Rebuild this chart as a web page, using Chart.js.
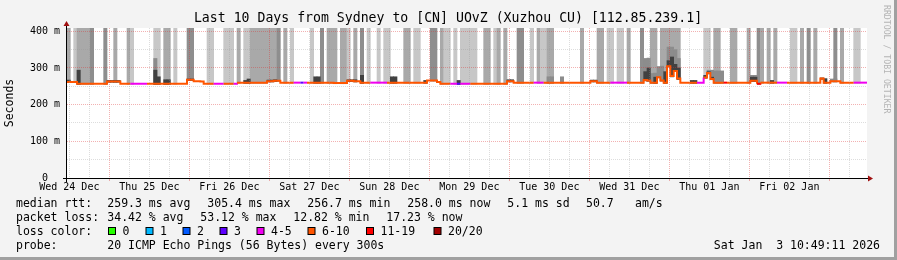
<!DOCTYPE html>
<html lang="en">
<head>
  <meta charset="UTF-8" />
  <title>SmokePing - Sydney to Xuzhou CU</title>
  <script src="https://cdn.jsdelivr.net/npm/chart.js"></script>
  <style>
    html, body { margin: 0; padding: 0; background: #f3f3f3; }
    #wrap { position: relative; width: 897px; height: 260px; }
  </style>
</head>
<body>
  <div id="wrap"><canvas id="smoke"></canvas></div>

  <script>
    const titleText = 'Last 10 Days from Sydney to [CN] UOvZ (Xuzhou CU) [112.85.239.1]';
    const dayLabels = ['Wed 24 Dec', 'Thu 25 Dec', 'Fri 26 Dec', 'Sat 27 Dec', 'Sun 28 Dec',
                       'Mon 29 Dec', 'Tue 30 Dec', 'Wed 31 Dec', 'Thu 01 Jan', 'Fri 02 Jan'];
    const yLabels = ['  0  ', '100 m', '200 m', '300 m', '400 m'];

    // hours counted from Wed 24 Dec 00:00, one column per hour
    const firstHour = 11.3;
    const spanHours = 240;
    const yMax = 409;

    // smoke above the median, 0 = none, 1 light, 2 medium, 3 dark (one value per hour)
    const smokeShade = [
      2,0,1,2,2,2,2,3,0,0,0,3,0,0,2,0,0,0,2,1,0,0,0,0,
      0,0,1,1,0,2,2,0,1,0,0,0,3,3,0,0,0,0,1,1,0,0,0,1,
      1,1,0,2,0,1,1,2,2,2,2,2,2,2,2,3,0,2,0,1,0,0,0,0,
      0,1,0,0,3,0,2,2,2,0,2,2,1,0,2,0,3,0,1,0,0,1,0,1,
      1,0,0,0,0,2,2,0,1,1,0,0,0,3,3,0,2,1,1,0,1,0,1,1,
      1,1,1,0,0,2,2,0,1,2,0,2,0,0,0,3,3,0,0,1,0,2,1,1,
      2,2,0,0,0,0,0,0,0,0,2,0,0,0,0,2,2,0,1,1,0,1,1,0,
      2,0,0,0,3,0,0,2,2,0,2,2,2,2,2,2,0,0,0,0,0,0,0,1,
      1,0,2,2,0,0,0,2,2,0,0,0,2,0,0,3,2,0,2,0,2,0,0,0,
      0,1,1,0,2,0,3,0,2,0,0,0,0,0,3,0,2,0,0,0,1,1,0,0
    ];

    // median rtt in ms, one value per hour
    const median = [
      262,262,262,257,257,257,257,257,257,257,257,257,263,263,263,263,257,257,257,257,257,257,257,257,
      257,257,257,257,257,257,257,257,257,257,257,257,268,268,264,264,263,257,257,257,257,257,257,257,
      257,257,257,260,260,260,260,260,260,260,260,260,264,264,265,265,260,260,260,260,260,260,260,260,
      260,260,260,260,260,260,260,260,259,259,259,259,265,265,264,264,260,260,260,260,260,260,260,260,
      260,260,260,260,260,260,260,260,260,260,260,260,266,266,266,262,257,257,257,257,257,257,257,257,
      257,257,257,257,257,257,257,257,257,257,257,257,264,264,260,260,260,260,260,260,260,260,260,260,
      260,260,260,260,260,260,260,260,260,260,260,260,260,264,264,260,260,260,260,260,260,260,260,260,
      260,260,260,260,260,267,266,260,260,275,266,260,305,278,292,271,260,260,260,260,260,260,260,274,
      286,270,260,260,260,260,260,260,260,260,260,260,260,265,265,257,260,260,260,260,260,260,260,260,
      260,260,260,260,260,260,260,260,260,260,271,260,260,264,264,264,260,260,260,260,260,260,260,260
    ];

    // loss colour bucket per hour (index into lossColors)
    const lossBucket = [
      5,5,5,5,5,5,5,5,5,5,5,5,5,5,5,5,5,5,5,4,4,4,4,4,
      5,5,5,5,5,5,5,5,5,5,5,5,5,5,5,5,5,5,5,5,4,4,4,5,
      5,5,4,5,5,5,5,5,5,5,5,5,5,5,5,5,5,5,5,5,4,4,3,4,
      5,5,5,5,5,5,5,5,5,5,5,5,5,5,5,5,5,5,5,4,4,4,4,4,
      5,5,5,5,5,5,5,5,5,5,5,5,5,5,5,5,5,5,5,4,4,3,4,4,
      4,5,5,5,5,5,5,5,5,5,5,5,5,5,5,5,5,5,5,5,4,4,4,5,
      5,5,5,5,5,5,5,5,5,5,5,5,5,5,5,5,5,5,5,4,4,4,4,4,
      5,5,5,5,5,5,5,5,5,5,5,5,5,5,5,5,5,5,5,5,5,4,4,5,
      5,5,5,5,5,6,5,5,5,5,5,5,5,5,5,6,5,5,5,5,5,4,4,4,
      5,5,5,5,5,5,5,5,5,5,5,5,5,5,5,5,5,5,5,5,4,4,4,4
    ];

    // lower smoke bands that stay under 400 ms: [hour index, top ms]
    const smokeMid = [
      [26,326],[144,276],[145,276],[148,276],[173,326],[174,327],[175,285],[176,286],
      [177,304],[178,305],[180,357],[181,357],[182,350],[183,326],[192,294],[193,294],
      [194,292],[195,292],[196,292],[205,280],[206,280],[229,270],[230,270]
    ];
    const smokeCore = [
      [0,267],[3,294],[12,266],[13,266],[14,266],[15,266],[26,294],[27,276],[29,268],[30,268],
      [36,270],[37,270],[53,266],[54,270],[60,267],[61,267],[62,268],[74,276],[75,276],
      [84,268],[85,268],[86,268],[88,280],[97,276],[98,276],[107,266],[117,266],[132,268],
      [133,268],[157,267],[158,267],[173,290],[174,300],[176,275],[179,290],[180,320],
      [181,330],[182,310],[183,300],[187,266],[188,266],[191,280],[192,290],[193,275],
      [205,275],[206,275],[211,266],[226,273],[227,271]
    ];

    const lossLabels = ['0', '1', '2', '3', '4-5', '6-10', '11-19', '20/20'];
    const lossColors = ['#26ff00', '#00b8ff', '#0059ff', '#5e00ff', '#f000f0', '#ff5500', '#ff0000', '#a10000'];
    const shadeColors = ['rgba(0,0,0,0)', '#c7c7c7', '#a9a9a9', '#8e8e8e'];

    const rttStats = ['259.3 ms avg', '305.4 ms max', '256.7 ms min', '258.0 ms now', '5.1 ms sd', '50.7', 'am/s'];
    const lossStats = ['34.42 % avg', '53.12 % max', '12.82 % min', '17.23 % now'];
    const probeText = '20 ICMP Echo Pings (56 Bytes) every 300s';
    const stampText = 'Sat Jan  3 10:49:11 2026';

    const minorGrid = 'rgba(150,150,150,0.32)';
    const majorGrid = 'rgba(220,50,50,0.38)';
    const mono = '"DejaVu Sans Mono", "Liberation Mono", monospace';

    // build the chart data from the arrays above
    const colX = k => firstHour + k + 0.5;
    const lineData = median.map((v, k) => ({ x: firstHour + k, y: v }));
    lineData.push({ x: firstHour + median.length, y: median[median.length - 1] });
    const outerData = smokeShade.map((s, k) => ({ x: colX(k), y: s ? [median[k] - 2, yMax] : null }));
    const midData = smokeMid.map(([k, top]) => ({ x: colX(k), y: [median[k] - 2, top] }));
    const coreData = smokeCore.map(([k, top]) => ({ x: colX(k), y: [median[k] - 2, top] }));

    const xTicks = [];
    for (let h = Math.ceil(firstHour / 6) * 6; h < firstHour + spanHours; h += 6) xTicks.push({ value: h });
    const yTicks = [];
    for (let v = 0; v <= 400; v += 25) yTicks.push({ value: v });

    const barOpts = { grouped: false, barPercentage: 1, categoryPercentage: 1, borderWidth: 0 };

    // white plot, axes with arrows, title, legend
    const frame = {
      id: 'frame',
      beforeDraw(chart) {
        const { ctx, chartArea: a } = chart;
        ctx.save();
        ctx.fillStyle = '#ffffff';
        ctx.fillRect(a.left, a.top, a.right - a.left, a.bottom - a.top);
        ctx.restore();
      },
      afterDraw(chart) {
        const { ctx, chartArea: a, width, height } = chart;
        ctx.save();

        ctx.strokeStyle = '#000';
        ctx.lineWidth = 1;
        ctx.beginPath();
        ctx.moveTo(a.left - 0.5, a.bottom + 4);
        ctx.lineTo(a.left - 0.5, a.top - 2);
        ctx.moveTo(a.left - 4, a.bottom + 0.5);
        ctx.lineTo(a.right + 2, a.bottom + 0.5);
        ctx.stroke();

        ctx.fillStyle = '#a01010';
        ctx.beginPath();
        ctx.moveTo(a.left - 3.5, a.top - 2);
        ctx.lineTo(a.left + 2.5, a.top - 2);
        ctx.lineTo(a.left - 0.5, a.top - 7);
        ctx.closePath();
        ctx.fill();
        ctx.beginPath();
        ctx.moveTo(a.right + 1, a.bottom - 2.5);
        ctx.lineTo(a.right + 1, a.bottom + 3.5);
        ctx.lineTo(a.right + 6, a.bottom + 0.5);
        ctx.closePath();
        ctx.fill();

        ctx.fillStyle = '#000';
        ctx.textBaseline = 'middle';
        ctx.textAlign = 'center';
        ctx.font = '13.2px ' + mono;
        ctx.fillText(titleText, 448, 19);

        ctx.font = '11.5px ' + mono;
        ctx.save();
        ctx.translate(10, (a.top + a.bottom) / 2);
        ctx.rotate(-Math.PI / 2);
        ctx.fillText('Seconds', 0, 0);
        ctx.restore();

        ctx.save();
        ctx.fillStyle = '#b4b4b4';
        ctx.font = '8.2px ' + mono;
        ctx.textAlign = 'left';
        ctx.translate(886, 5);
        ctx.rotate(Math.PI / 2);
        ctx.fillText('RRDTOOL / TOBI OETIKER', 0, 0);
        ctx.restore();

        ctx.textAlign = 'left';
        ctx.fillText('median rtt:', 16, 204);
        [107.3, 207.3, 307.3, 407.3, 507.3, 586, 635].forEach((x, i) => ctx.fillText(rttStats[i], x, 204));
        ctx.fillText('packet loss:', 16, 218);
        [107.3, 200.3, 293.3, 386.3].forEach((x, i) => ctx.fillText(lossStats[i], x, 218));
        ctx.fillText('loss color:', 16, 232);
        const boxX = [108, 145.5, 182.5, 219.5, 256.5, 307.5, 366, 433.5];
        boxX.forEach((x, i) => {
          ctx.fillStyle = '#000';
          ctx.fillRect(x, 227, 8, 8);
          ctx.fillStyle = lossColors[i];
          ctx.fillRect(x + 1, 228, 6, 6);
          ctx.fillStyle = '#000';
          ctx.fillText(lossLabels[i], x + 14.5, 232);
        });
        ctx.fillText('probe:', 16, 246);
        ctx.fillText(probeText, 107.3, 246);
        ctx.textAlign = 'right';
        ctx.fillText(stampText, 880, 246);

        ctx.fillStyle = '#a0a0a0';
        ctx.fillRect(0, height - 3, width, 3);
        ctx.fillRect(width - 3, 0, 3, height);
        ctx.restore();
      }
    };

    new Chart(document.getElementById('smoke'), {
      type: 'bar',
      data: {
        datasets: [
          {
            type: 'line',
            label: 'median rtt',
            data: lineData,
            order: 0,
            stepped: true,
            borderWidth: 2,
            borderCapStyle: 'butt',
            pointRadius: 0,
            borderColor: lossColors[5],
            segment: { borderColor: c => lossColors[lossBucket[c.p0DataIndex]] || lossColors[5] }
          },
          { label: 'core smoke', data: coreData, order: 1, backgroundColor: '#414141', ...barOpts },
          { label: 'mid smoke', data: midData, order: 2, backgroundColor: '#8c8c8c', ...barOpts },
          {
            label: 'smoke',
            data: outerData,
            order: 3,
            backgroundColor: c => shadeColors[smokeShade[c.dataIndex]] || shadeColors[0],
            ...barOpts
          }
        ]
      },
      options: {
        responsive: true,
        maintainAspectRatio: false,
        animation: false,
        devicePixelRatio: 1,
        layout: { padding: { top: 28, right: 30, left: 0, bottom: 0 } },
        plugins: {
          legend: { display: false },
          tooltip: { enabled: false },
          title: { display: false }
        },
        scales: {
          x: {
            type: 'linear',
            min: firstHour,
            max: firstHour + spanHours,
            offset: false,
            afterBuildTicks: s => { s.ticks = xTicks.map(t => ({ value: t.value })); },
            afterFit: s => { s.height = 82; },
            grid: {
              z: 1,
              offset: false,
              lineWidth: 1,
              color: c => (c.tick && c.tick.value % 24 === 0) ? majorGrid : minorGrid,
              drawTicks: true,
              tickLength: 3,
              tickColor: c => (c.tick && c.tick.value % 24 === 0) ? majorGrid : 'rgba(0,0,0,0)'
            },
            border: { display: false, dash: [1, 1] },
            ticks: {
              autoSkip: false,
              maxRotation: 0,
              minRotation: 0,
              padding: 0,
              color: '#000',
              font: { family: mono, size: 10 },
              callback: v => (v % 24 === 12) ? dayLabels[(v - 12) / 24] : ''
            }
          },
          y: {
            min: 0,
            max: yMax,
            afterBuildTicks: s => { s.ticks = yTicks.map(t => ({ value: t.value })); },
            afterFit: s => { s.width = 67; },
            grid: {
              z: 1,
              lineWidth: 1,
              drawTicks: false,
              color: c => (c.tick && c.tick.value % 100 === 0) ? majorGrid : minorGrid
            },
            border: { display: false, dash: [1, 1] },
            ticks: {
              padding: 7,
              color: '#000',
              font: { family: mono, size: 10 },
              callback: v => (v % 100 === 0) ? yLabels[v / 100] : ''
            }
          }
        }
      },
      plugins: [frame]
    });
  </script>
</body>
</html>
